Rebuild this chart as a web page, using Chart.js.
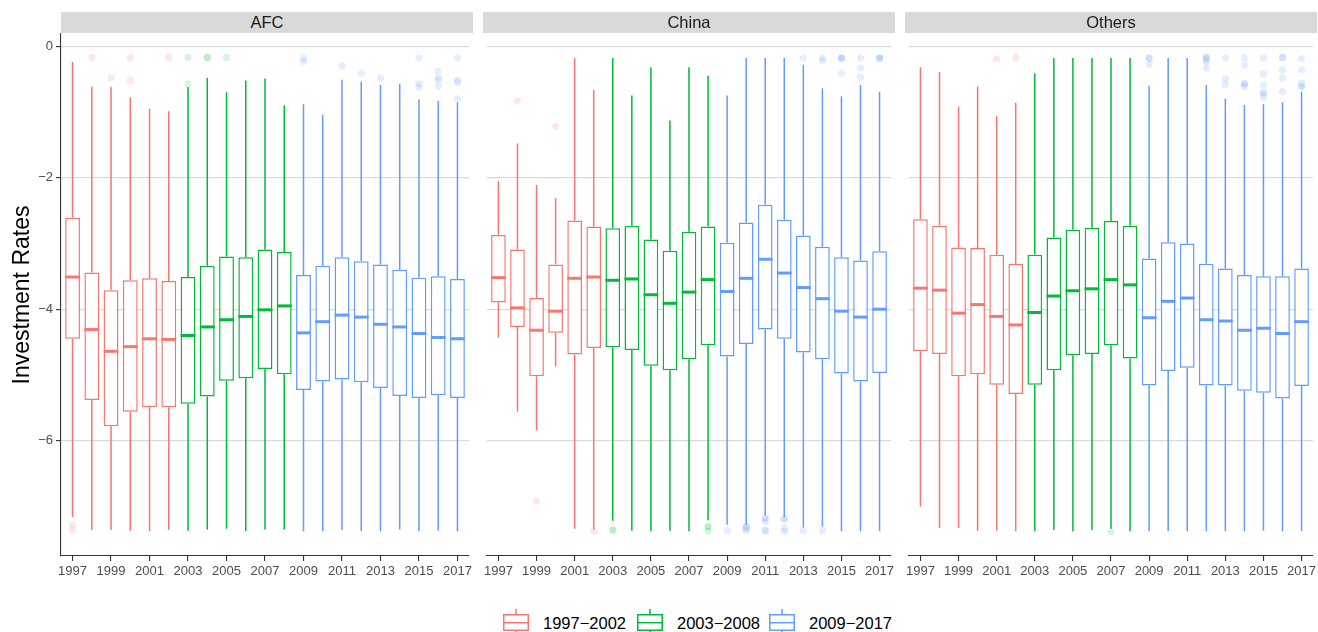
<!DOCTYPE html>
<html>
<head>
<meta charset="utf-8">
<script src="https://cdn.jsdelivr.net/npm/chart.js@4.4.0/dist/chart.umd.min.js"></script>
<style>
html,body{margin:0;padding:0;background:#fff;}
body{width:1318px;height:632px;position:relative;overflow:hidden;font-family:"Liberation Sans",Arial,Helvetica,sans-serif;}
.strip{position:absolute;top:12px;height:21px;background:#D9D9D9;color:#1A1A1A;font-size:16.5px;line-height:21px;text-align:center;z-index:2;}
canvas{position:absolute;}
.legtext{position:absolute;top:613px;font-size:16.5px;line-height:20px;color:#000;white-space:nowrap;}
svg{position:absolute;overflow:visible;}
</style>
</head>
<body>
<canvas id="c0" width="473" height="561" style="left:0px;top:30px;width:473px;height:561px"></canvas>
<canvas id="c1" width="412" height="561" style="left:483px;top:30px;width:412px;height:561px"></canvas>
<canvas id="c2" width="412" height="561" style="left:905px;top:30px;width:412px;height:561px"></canvas>
<script>
// ---------------- DATA ----------------
const years = [1997,1998,1999,2000,2001,2002,2003,2004,2005,2006,2007,2008,2009,2010,2011,2012,2013,2014,2015,2016,2017];
const xTickYears = [1997,1999,2001,2003,2005,2007,2009,2011,2013,2015,2017];
const yTickValues = [0,-2,-4,-6];
const panelNames = ['AFC','China','Others'];
const periodLabels = ['1997\u22122002','2003\u22122008','2009\u22122017'];
const periodStartYears = [1997,2003,2009];

// AFC
const afcLower  = [-7.16,-7.36,-7.36,-7.37,-7.38,-7.36,-7.37,-7.35,-7.34,-7.38,-7.35,-7.35,-7.38,-7.38,-7.36,-7.38,-7.38,-7.35,-7.38,-7.37,-7.38];
const afcQ1     = [-4.45,-5.38,-5.78,-5.56,-5.49,-5.49,-5.44,-5.33,-5.09,-5.05,-4.91,-4.99,-5.23,-5.10,-5.07,-5.11,-5.20,-5.32,-5.35,-5.31,-5.35];
const afcMedian = [-3.51,-4.31,-4.64,-4.57,-4.45,-4.46,-4.40,-4.27,-4.16,-4.11,-4.01,-3.95,-4.36,-4.19,-4.09,-4.12,-4.23,-4.27,-4.37,-4.43,-4.45];
const afcQ3     = [-2.61,-3.44,-3.71,-3.56,-3.53,-3.57,-3.51,-3.34,-3.20,-3.21,-3.09,-3.13,-3.48,-3.34,-3.21,-3.27,-3.32,-3.40,-3.52,-3.50,-3.54];
const afcUpper  = [-0.24,-0.61,-0.62,-0.78,-0.95,-0.99,-0.62,-0.48,-0.70,-0.52,-0.49,-0.90,-0.88,-1.04,-0.51,-0.54,-0.59,-0.57,-0.81,-0.83,-0.85];
const afcOutliers = [
  [-7.28,-7.36],[-0.17],[-0.48],[-0.17,-0.52],[],[-0.17],[-0.17,-0.57],[-0.17,-0.17],[-0.17],[],[],[],
  [-0.18,-0.23],[],[-0.30],[-0.41],[-0.48],[],[-0.18,-0.57,-0.62],[-0.38,-0.48,-0.51,-0.61],[-0.18,-0.52,-0.55,-0.80]
];

// China
const chinaLower  = [-4.43,-5.56,-5.84,-4.87,-7.34,-7.35,-7.22,-7.37,-7.38,-7.37,-7.38,-7.21,-7.28,-7.28,-7.14,-7.16,-7.32,-7.31,-7.38,-7.38,-7.38];
const chinaQ1     = [-3.90,-4.27,-5.02,-4.36,-4.69,-4.59,-4.58,-4.62,-4.86,-4.93,-4.76,-4.55,-4.72,-4.53,-4.31,-4.45,-4.66,-4.76,-4.98,-5.10,-4.97];
const chinaMedian = [-3.52,-3.98,-4.32,-4.03,-3.53,-3.51,-3.56,-3.54,-3.78,-3.91,-3.74,-3.55,-3.73,-3.53,-3.24,-3.45,-3.67,-3.84,-4.03,-4.12,-4.00];
const chinaQ3     = [-2.87,-3.09,-3.83,-3.32,-2.65,-2.74,-2.77,-2.73,-2.94,-3.11,-2.82,-2.74,-2.99,-2.68,-2.41,-2.64,-2.88,-3.05,-3.21,-3.26,-3.12];
const chinaUpper  = [-2.05,-1.48,-2.11,-2.31,-0.18,-0.66,-0.18,-0.75,-0.32,-1.13,-0.32,-0.45,-0.75,-0.18,-0.18,-0.18,-0.28,-0.64,-0.76,-0.59,-0.69];
const chinaOutliers = [
  [],[-0.83],[-6.92],[-1.22],[],[-7.38],[-7.36,-7.36],[],[],[],[],[-7.31,-7.31,-7.38],
  [-7.37],[-7.31,-7.31,-7.34,-7.37],[-7.17,-7.19,-7.23,-7.37,-7.37],[-7.19,-7.19,-7.33,-7.38],
  [-0.18,-7.37],[-0.18,-0.22,-7.37],[-0.18,-0.18,-0.18,-0.41],[-0.18,-0.33,-0.47],[-0.18,-0.18,-0.18]
];

// Others
const othersLower  = [-7.00,-7.33,-7.33,-7.37,-7.37,-7.38,-7.38,-7.36,-7.38,-7.36,-7.34,-7.38,-7.38,-7.38,-7.38,-7.38,-7.38,-7.38,-7.37,-7.38,-7.38];
const othersQ1     = [-4.64,-4.68,-5.02,-4.99,-5.15,-5.29,-5.15,-4.93,-4.70,-4.68,-4.55,-4.75,-5.16,-4.94,-4.89,-5.16,-5.16,-5.24,-5.27,-5.36,-5.17];
const othersMedian = [-3.68,-3.71,-4.06,-3.93,-4.11,-4.24,-4.05,-3.80,-3.72,-3.69,-3.55,-3.63,-4.13,-3.88,-3.83,-4.16,-4.18,-4.32,-4.29,-4.37,-4.19];
const othersQ3     = [-2.63,-2.73,-3.06,-3.07,-3.17,-3.31,-3.17,-2.91,-2.79,-2.76,-2.66,-2.73,-3.23,-2.98,-3.00,-3.31,-3.38,-3.48,-3.50,-3.50,-3.38];
const othersUpper  = [-0.32,-0.39,-0.92,-0.61,-1.06,-0.86,-0.41,-0.18,-0.18,-0.18,-0.18,-0.18,-0.60,-0.18,-0.18,-0.59,-0.80,-0.89,-0.88,-0.85,-0.69];
const othersOutliers = [
  [],[],[],[],[-0.19],[-0.17],[],[],[],[],[-7.39],[],
  [-0.18,-0.18,-0.27],[],[],[-0.17,-0.17,-0.20,-0.24,-0.33],[-0.18,-0.49,-0.58],
  [-0.18,-0.29,-0.57,-0.57,-0.61],[-0.18,-0.42,-0.59,-0.70,-0.72,-0.77],
  [-0.17,-0.17,-0.35,-0.48,-0.69],[-0.19,-0.36,-0.56,-0.60,-0.62]
];

// ---------------- STYLE ----------------
const periodColors = ['#F8766D','#00BA38','#619CFF'];
const periodFaint  = ['rgba(248,118,109,0.17)','rgba(0,186,56,0.15)','rgba(97,156,255,0.17)'];
const FONT = '"Liberation Sans", Arial, Helvetica, sans-serif';

function periodIndex(year){
  let k = 0;
  periodStartYears.forEach((s,i)=>{ if (year >= s) k = i; });
  return k;
}
const minusFmt = v => (v < 0 ? '\u2212' + Math.abs(v) : String(v));

const panels = [
  {name: panelNames[0], lower: afcLower, q1: afcQ1, median: afcMedian, q3: afcQ3, upper: afcUpper, outliers: afcOutliers},
  {name: panelNames[1], lower: chinaLower, q1: chinaQ1, median: chinaMedian, q3: chinaQ3, upper: chinaUpper, outliers: chinaOutliers},
  {name: panelNames[2], lower: othersLower, q1: othersQ1, median: othersMedian, q3: othersQ3, upper: othersUpper, outliers: othersOutliers}
];

// strips
const stripLeft = [61, 483, 905];
panels.forEach((p, k) => {
  const d = document.createElement('div');
  d.className = 'strip';
  d.style.left = stripLeft[k] + 'px';
  d.style.width = '412px';
  d.textContent = p.name;
  document.body.appendChild(d);
});

function makePanel(canvasId, p, showY){
  const colorOf = i => periodColors[periodIndex(years[i])];
  const boxData = years.map((yr, i) => ({x: yr, y: [p.q1[i], p.q3[i]]}));
  const outData = [], outColors = [];
  years.forEach((yr, i) => p.outliers[i].forEach(v => {
    outData.push({x: yr, y: v});
    outColors.push(periodFaint[periodIndex(yr)]);
  }));

  const boxPlugin = {
    id: 'boxParts',
    beforeDatasetDraw(chart, args){
      if (args.meta.type !== 'bar') return;
      const ys = chart.scales.y, ctx = chart.ctx;
      ctx.save();
      ctx.lineWidth = 1.5;
      args.meta.data.forEach((bar, i) => {
        ctx.strokeStyle = colorOf(i);
        ctx.beginPath();
        ctx.moveTo(bar.x, ys.getPixelForValue(p.q3[i]));
        ctx.lineTo(bar.x, ys.getPixelForValue(p.upper[i]));
        ctx.moveTo(bar.x, ys.getPixelForValue(p.q1[i]));
        ctx.lineTo(bar.x, ys.getPixelForValue(p.lower[i]));
        ctx.stroke();
      });
      ctx.restore();
    },
    afterDatasetDraw(chart, args){
      if (args.meta.type !== 'bar') return;
      const ys = chart.scales.y, ctx = chart.ctx;
      ctx.save();
      ctx.lineWidth = 3;
      args.meta.data.forEach((bar, i) => {
        const y = ys.getPixelForValue(p.median[i]);
        ctx.strokeStyle = colorOf(i);
        ctx.beginPath();
        ctx.moveTo(bar.x - bar.width / 2, y);
        ctx.lineTo(bar.x + bar.width / 2, y);
        ctx.stroke();
      });
      ctx.restore();
    }
  };

  return new Chart(document.getElementById(canvasId), {
    type: 'bar',
    data: {
      datasets: [
        {
          type: 'bar',
          label: 'box',
          data: boxData,
          backgroundColor: '#FFFFFF',
          borderColor: ctx => colorOf(ctx.dataIndex),
          borderWidth: 1.5,
          borderSkipped: false,
          inflateAmount: 0,
          categoryPercentage: 1,
          barPercentage: 0.77,
          order: 1
        },
        {
          type: 'scatter',
          label: 'outliers',
          data: outData,
          pointBackgroundColor: outColors,
          pointBorderWidth: 0,
          pointBorderColor: 'rgba(0,0,0,0)',
          pointRadius: 3.6,
          showLine: false,
          order: 2
        }
      ]
    },
    options: {
      responsive: false,
      maintainAspectRatio: false,
      animation: false,
      events: [],
      layout: {padding: 0},
      plugins: {legend: {display: false}, tooltip: {enabled: false}, title: {display: false}},
      scales: {
        x: {
          type: 'linear',
          min: 1996.4, max: 2017.6,
          bounds: 'data',
          offset: false,
          afterBuildTicks: s => { s.ticks = xTickYears.map(v => ({value: v})); },
          afterFit: s => { s.height = 35; s.paddingLeft = 0; s.paddingRight = 0; },
          ticks: {
            autoSkip: false, maxRotation: 0, minRotation: 0, padding: 3,
            color: '#4D4D4D', font: {family: FONT, size: 13},
            callback: v => String(v)
          },
          grid: {display: true, offset: false, drawOnChartArea: false, drawTicks: true, tickLength: 5, tickColor: '#333333', tickWidth: 1.1, lineWidth: 1.1},
          border: {display: true, color: '#333333', width: 1.1}
        },
        y: {
          type: 'linear',
          min: -7.755, max: 0.187,
          bounds: 'data',
          afterBuildTicks: s => { s.ticks = yTickValues.map(v => ({value: v})); },
          afterFit: s => { s.width = showY ? 61 : 0; s.paddingTop = 0; s.paddingBottom = 0; },
          ticks: {
            display: showY, padding: 3,
            color: '#4D4D4D', font: {family: FONT, size: 13},
            callback: v => minusFmt(v)
          },
          grid: {display: true, drawOnChartArea: true, drawTicks: showY, tickLength: 5, color: '#DBDBDB', lineWidth: 1.2, tickColor: '#333333', tickWidth: 1.1},
          border: {display: showY, color: '#333333', width: 1.1},
          title: {
            display: showY, text: 'Investment Rates', color: '#000000',
            font: {family: FONT, size: 23}, padding: {top: 9, bottom: 0}
          }
        }
      }
    },
    plugins: [boxPlugin]
  });
}

makePanel('c0', panels[0], true);
makePanel('c1', panels[1], false);
makePanel('c2', panels[2], false);

// legend
const legendX = [503, 637, 769];
const NS = 'http://www.w3.org/2000/svg';
periodLabels.forEach((lab, k) => {
  const col = periodColors[k];
  const svg = document.createElementNS(NS, 'svg');
  svg.setAttribute('width', '29'); svg.setAttribute('height', '30');
  svg.style.left = (legendX[k] - 1) + 'px';
  svg.style.top = '606px';
  const mk = (tag, attrs) => { const e = document.createElementNS(NS, tag); for (const a in attrs) e.setAttribute(a, attrs[a]); svg.appendChild(e); };
  mk('line', {x1: 14, y1: 3, x2: 14, y2: 8, stroke: col, 'stroke-width': 1.5});
  mk('line', {x1: 14, y1: 25, x2: 14, y2: 30, stroke: col, 'stroke-width': 1.5});
  mk('rect', {x: 1.75, y: 8.75, width: 24.5, height: 15.5, fill: '#fff', stroke: col, 'stroke-width': 1.5});
  mk('line', {x1: 1.75, y1: 16.7, x2: 26.25, y2: 16.7, stroke: col, 'stroke-width': 1.5});
  document.body.appendChild(svg);
  const t = document.createElement('div');
  t.className = 'legtext';
  t.style.left = (legendX[k] + 40) + 'px';
  t.textContent = lab;
  document.body.appendChild(t);
});
</script>
</body>
</html>
